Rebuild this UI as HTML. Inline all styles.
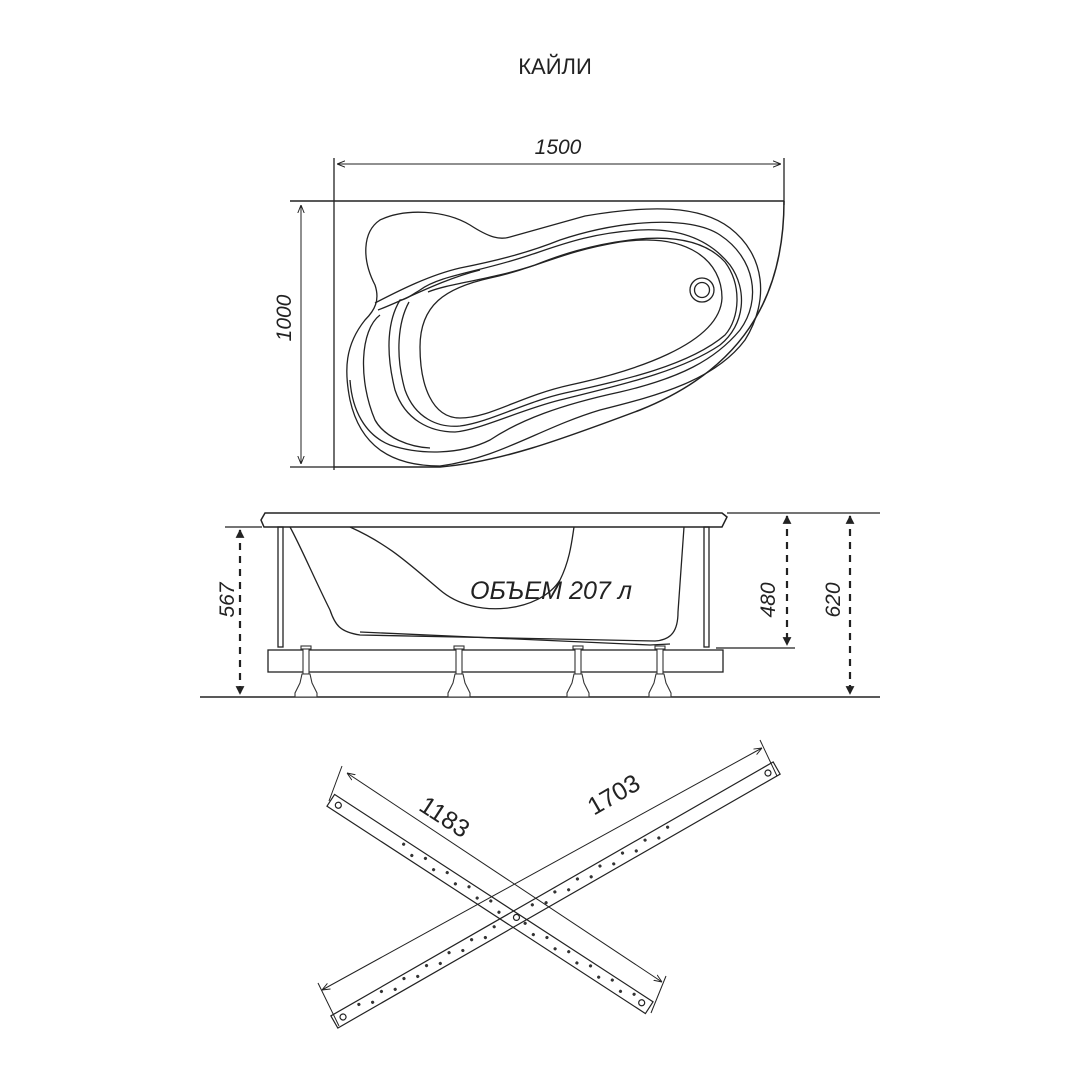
<!DOCTYPE html>
<html><head><meta charset="utf-8"><style>
html,body{margin:0;padding:0;background:#fff;}
svg{display:block;}
text{font-family:"Liberation Sans",sans-serif;fill:#222;}
</style></head><body>
<svg width="1080" height="1080" viewBox="0 0 1080 1080" xmlns="http://www.w3.org/2000/svg">
<defs>
<marker id="ar" viewBox="0 0 10 10" refX="10" refY="5" markerWidth="8" markerHeight="8" orient="auto-start-reverse"><path d="M0,1 L10,5 L0,9" fill="none" stroke="#222" stroke-width="1.2"/></marker>
<marker id="af" viewBox="0 0 10 10" refX="9" refY="5" markerWidth="4" markerHeight="5" orient="auto-start-reverse"><path d="M0,0 L10,5 L0,10Z" fill="#222"/></marker>
<g id="ft" stroke="#333" stroke-width="1.1" fill="#fff"><rect x="-3" y="648" width="6" height="26"/><path d="M-4,674 L4,674 L6,683 L11,693 L11,697 L-11,697 L-11,693 L-6,683Z"/><rect x="-5" y="646" width="10" height="3"/></g>
</defs>
<text x="555" y="74" font-size="22" text-anchor="middle" font-weight="300">КАЙЛИ</text>

<!-- TOP VIEW -->
<g fill="none" stroke="#222" stroke-width="1.3">
<line x1="334" y1="158" x2="334" y2="470"/>
<line x1="784" y1="158" x2="784" y2="205"/>
<line x1="337" y1="164" x2="781" y2="164" marker-start="url(#ar)" marker-end="url(#ar)" stroke-width="1"/>
<line x1="290" y1="201" x2="784" y2="201" stroke-width="1.5"/>
<line x1="290" y1="467" x2="334" y2="467"/>
<line x1="301" y1="205" x2="301" y2="464" marker-start="url(#ar)" marker-end="url(#ar)" stroke-width="1"/>
<path d="M784,201 C784,300 740,370 640,410 C560,440 500,462 440,467 L334,467" stroke-width="1.5"/>
<path d="M510,237 L585,216 C650,205 700,205 730,228 C765,255 770,300 745,340 C715,380 660,395 600,410 C540,428 500,458 440,466 C390,466 360,445 350,400 C344,370 345,345 365,320 C375,310 380,300 375,285 C362,260 362,232 380,220 C405,208 445,210 470,225 C490,238 500,240 510,237Z"/>
<path d="M375,303 C400,290 430,275 460,268 C500,260 530,252 560,240 C620,220 690,215 720,235 C755,258 762,300 740,330 C715,360 680,378 620,392 C560,405 520,420 490,440 C460,455 420,455 390,445 C365,435 352,410 350,380"/>
<path d="M378,310 C405,300 440,280 480,270"/>
<path d="M380,315 C360,330 358,380 375,420 C385,438 410,447 430,448"/>
<path d="M400,300 C388,320 385,350 395,390 C405,420 430,432 455,432 C480,430 520,410 560,400 C620,385 680,372 720,345 C745,325 748,290 730,265 C710,240 680,228 640,230 C590,233 560,245 530,255 C480,272 440,275 420,290 C410,296 405,300 400,300Z"/>
<path d="M409,302 C398,322 395,355 405,390 C415,418 438,428 460,426 C490,422 525,402 565,393 C625,380 690,365 725,335 C740,318 742,285 725,262 C705,240 670,235 630,240 C590,245 560,255 535,265 C490,280 450,283 428,292"/>
<path d="M420,347 C420,305 445,288 490,278 C540,267 560,252 620,242 C690,232 722,262 722,298 C720,345 630,372 570,385 C520,396 490,418 460,418 C432,418 420,385 420,347Z"/>
<circle cx="702" cy="290" r="12"/>
<circle cx="702" cy="290" r="7.5"/>
</g>
<text x="558" y="154" font-size="21" font-style="italic" text-anchor="middle">1500</text>
<text transform="translate(291,318) rotate(-90)" font-size="21" font-style="italic" text-anchor="middle">1000</text>

<!-- SIDE VIEW -->
<g fill="none" stroke="#222" stroke-width="1.3">
<line x1="727" y1="513" x2="880" y2="513"/>
<line x1="225" y1="527" x2="262" y2="527"/>
<line x1="200" y1="697" x2="880" y2="697" stroke-width="1.5"/>
<line x1="716" y1="648" x2="795" y2="648"/>
<path d="M265,513 L722,513 L727,517 L722,527 L264,527 L261,520Z" stroke-width="1.5"/>
<path d="M290,527 C300,545 315,580 330,610 C335,625 340,632 360,635 L655,641 C672,640 678,630 678,612 L684,527"/>
<path d="M360,632 L650,645 L670,644"/>
<path d="M350,527 C390,545 410,565 440,590 C475,620 540,612 560,580 C570,560 572,540 574,527"/>
<rect x="278" y="527" width="5" height="120"/>
<rect x="704" y="527" width="5" height="120"/>
<rect x="268" y="650" width="455" height="22"/>
<line x1="240" y1="530" x2="240" y2="694" stroke-dasharray="7,6" stroke-width="2.2" marker-start="url(#af)" marker-end="url(#af)"/>
<line x1="787" y1="516" x2="787" y2="645" stroke-dasharray="7,6" stroke-width="2.2" marker-start="url(#af)" marker-end="url(#af)"/>
<line x1="850" y1="516" x2="850" y2="694" stroke-dasharray="7,6" stroke-width="2.2" marker-start="url(#af)" marker-end="url(#af)"/>
</g>
<use href="#ft" x="306"/><use href="#ft" x="459"/><use href="#ft" x="578"/><use href="#ft" x="660"/>
<text x="470" y="599" font-size="25" font-style="italic" textLength="162" lengthAdjust="spacingAndGlyphs">ОБЪЕМ 207 л</text>
<text transform="translate(234,600) rotate(-90)" font-size="21" font-style="italic" text-anchor="middle">567</text>
<text transform="translate(775,600) rotate(-90)" font-size="21" font-style="italic" text-anchor="middle">480</text>
<text transform="translate(840,600) rotate(-90)" font-size="21" font-style="italic" text-anchor="middle">620</text>

<!-- CROSS BARS -->
<g fill="none" stroke="#222" stroke-width="1.2">
<g transform="translate(490,904) rotate(33.07)">
<rect x="-190" y="-7" width="380" height="14"/>
<circle cx="-181" cy="0" r="3"/><circle cx="181" cy="0" r="3"/>
</g>
<g transform="translate(555.5,895) rotate(-29.86)">
<rect x="-255" y="-7" width="510" height="14"/>
<circle cx="-245" cy="0" r="3"/><circle cx="245" cy="0" r="3"/><circle cx="-45" cy="0" r="3"/>
</g>
</g>
<g fill="#333">
<g transform="translate(490,904) rotate(33.07)">
<circle cx="-105" cy="-3" r="1.6"/><circle cx="-92" cy="2" r="1.6"/><circle cx="-79" cy="-3" r="1.6"/><circle cx="-66" cy="2" r="1.6"/><circle cx="-53" cy="-3" r="1.6"/><circle cx="-40" cy="2" r="1.6"/><circle cx="-27" cy="-3" r="1.6"/><circle cx="-14" cy="2" r="1.6"/><circle cx="-1" cy="-3" r="1.6"/><circle cx="12" cy="2" r="1.6"/><circle cx="40" cy="-3" r="1.6"/><circle cx="53" cy="2" r="1.6"/><circle cx="66" cy="-3" r="1.6"/><circle cx="79" cy="2" r="1.6"/><circle cx="92" cy="-3" r="1.6"/><circle cx="105" cy="2" r="1.6"/><circle cx="118" cy="-3" r="1.6"/><circle cx="131" cy="2" r="1.6"/><circle cx="144" cy="-3" r="1.6"/><circle cx="157" cy="2" r="1.6"/><circle cx="170" cy="-3" r="1.6"/>
</g>
<g transform="translate(555.5,895) rotate(-29.86)">
<circle cx="-225" cy="-3" r="1.6"/><circle cx="-212" cy="2" r="1.6"/><circle cx="-199" cy="-3" r="1.6"/><circle cx="-186" cy="2" r="1.6"/><circle cx="-173" cy="-3" r="1.6"/><circle cx="-160" cy="2" r="1.6"/><circle cx="-147" cy="-3" r="1.6"/><circle cx="-134" cy="2" r="1.6"/><circle cx="-121" cy="-3" r="1.6"/><circle cx="-108" cy="2" r="1.6"/><circle cx="-95" cy="-3" r="1.6"/><circle cx="-82" cy="2" r="1.6"/><circle cx="-69" cy="-3" r="1.6"/><circle cx="-25" cy="-3" r="1.6"/><circle cx="-12" cy="2" r="1.6"/><circle cx="1" cy="-3" r="1.6"/><circle cx="14" cy="2" r="1.6"/><circle cx="27" cy="-3" r="1.6"/><circle cx="40" cy="2" r="1.6"/><circle cx="53" cy="-3" r="1.6"/><circle cx="66" cy="2" r="1.6"/><circle cx="79" cy="-3" r="1.6"/><circle cx="92" cy="2" r="1.6"/><circle cx="105" cy="-3" r="1.6"/><circle cx="118" cy="2" r="1.6"/><circle cx="131" cy="-3" r="1.6"/>
</g>
</g>
<g fill="none" stroke="#222" stroke-width="1">
<line x1="347" y1="773" x2="662" y2="982" marker-start="url(#ar)" marker-end="url(#ar)"/>
<line x1="342" y1="766" x2="329" y2="801"/><line x1="666" y1="976" x2="651" y2="1013"/>
<line x1="322" y1="990" x2="762" y2="748" marker-start="url(#ar)" marker-end="url(#ar)"/>
<line x1="318" y1="983" x2="339" y2="1026"/><line x1="760" y1="740" x2="777" y2="776"/>
</g>
<text transform="translate(440,824) rotate(33)" font-size="25" text-anchor="middle">1183</text>
<text transform="translate(618,802) rotate(-30)" font-size="25" text-anchor="middle">1703</text>
</svg>
</body></html>
